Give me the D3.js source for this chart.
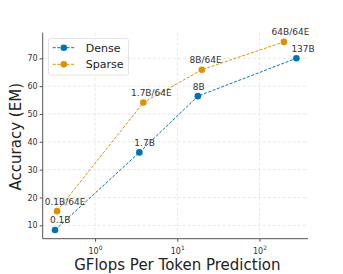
<!DOCTYPE html>
<html><head><meta charset="utf-8">
<script src="https://cdn.jsdelivr.net/npm/d3@7"></script>
<style>body{margin:0;background:#fff}svg{display:block}text{font-family:"DejaVu Sans",sans-serif}</style>
</head><body>
<script>
const denseX = [0.326, 3.46, 17.8, 281];
const denseY = [8.3, 36.2, 56.4, 70.0];
const denseLabels = ["0.1B", "1.7B", "8B", "137B"];
const sparseX = [0.345, 3.87, 19.9, 198];
const sparseY = [15.1, 54.1, 65.9, 75.9];
const sparseLabels = ["0.1B/64E", "1.7B/64E", "8B/64E", "64B/64E"];
const yTicks = [10, 20, 30, 40, 50, 60, 70];
const xTicks = [1, 10, 100];
const seriesNames = ["Dense", "Sparse"];
const colors = ["#0173b2", "#de8f05"];

const W = 343, H = 274;
const L = 42.7, R = 308, T = 32.7, B = 238.7;
const svg = d3.select("body").append("svg").attr("width", W).attr("height", H);
const x = d3.scaleLog().domain([0.231, 389]).range([L, R]);
const y = d3.scaleLinear().domain([5.2, 79.2]).range([B, T]);

// grid
svg.append("g").selectAll("line").data(yTicks).join("line")
  .attr("x1", L).attr("x2", R).attr("y1", d => y(d)).attr("y2", d => y(d))
  .attr("stroke", "#e2e2e2").attr("stroke-width", 0.8).attr("stroke-dasharray", "3,2");
svg.append("g").selectAll("line").data(xTicks).join("line")
  .attr("y1", T).attr("y2", B).attr("x1", d => x(d)).attr("x2", d => x(d))
  .attr("stroke", "#e2e2e2").attr("stroke-width", 0.8).attr("stroke-dasharray", "3,2");

// axes
const yAxis = svg.append("g").attr("transform", `translate(${L},0)`)
  .call(d3.axisLeft(y).tickValues(yTicks).tickSize(3).tickPadding(2));
const xAxis = svg.append("g").attr("transform", `translate(0,${B})`)
  .call(d3.axisBottom(x).tickValues(xTicks).tickSize(3).tickPadding(2).tickFormat(() => ""));
[yAxis, xAxis].forEach(a => {
  a.select(".domain").attr("stroke", "#555").attr("stroke-width", 1);
  a.selectAll(".tick line").attr("stroke", "#555");
  a.selectAll("text").attr("fill", "#333").style("font-size", "8px").style("font-family", "DejaVu Sans");
});
yAxis.select(".domain").attr("d", `M0,${B}V${T}`);
xAxis.select(".domain").attr("d", `M${L},0H${R}`);
xAxis.selectAll(".tick").each(function(d) {
  const t = d3.select(this).append("text").attr("y", 15).attr("text-anchor", "middle")
    .attr("fill", "#333").style("font-size", "8px");
  t.append("tspan").text("10");
  t.append("tspan").attr("dy", -4).style("font-size", "6px").text(Math.round(Math.log10(d)));
});

// series
const series = [
  {x: denseX, y: denseY, labels: denseLabels, color: colors[0], dx: -5},
  {x: sparseX, y: sparseY, labels: sparseLabels, color: colors[1], dx: -12.3}
];
const line = d3.line().x(d => x(d[0])).y(d => y(d[1]));
series.forEach(s => {
  const pts = s.x.map((v, i) => [v, s.y[i]]);
  svg.append("path").datum(pts).attr("d", line).attr("fill", "none")
    .attr("stroke", s.color).attr("stroke-width", 1).attr("stroke-dasharray", "3,1.6");
  svg.append("g").selectAll("circle").data(pts).join("circle")
    .attr("cx", d => x(d[0])).attr("cy", d => y(d[1])).attr("r", 3.3).attr("fill", s.color);
  svg.append("g").selectAll("text").data(pts).join("text")
    .attr("x", d => x(d[0]) + s.dx).attr("y", d => y(d[1]) - 6.6)
    .attr("fill", "#333").style("font-size", "9px").text((d, i) => s.labels[i]);
});

// legend
const lg = svg.append("g");
lg.append("rect").attr("x", 48.5).attr("y", 38.5).attr("width", 80).attr("height", 36.5)
  .attr("rx", 2).attr("fill", "#fff").attr("fill-opacity", 0.8).attr("stroke", "#ddd").attr("stroke-width", 0.8);
seriesNames.forEach((n, i) => {
  const cy = 47.7 + i * 16.6;
  lg.append("line").attr("x1", 52.7).attr("x2", 75).attr("y1", cy).attr("y2", cy)
    .attr("stroke", colors[i]).attr("stroke-width", 1).attr("stroke-dasharray", "3,1.6");
  lg.append("circle").attr("cx", 63.8).attr("cy", cy).attr("r", 3.3).attr("fill", colors[i]);
  lg.append("text").attr("x", 85.7).attr("y", cy + 4).attr("fill", "#222").style("font-size", "11px").text(n);
});

// axis titles
svg.append("text").attr("x", (L + R) / 2 + 2).attr("y", 269.5).attr("text-anchor", "middle")
  .attr("fill", "#222").style("font-size", "15px").text("GFlops Per Token Prediction");
svg.append("text").attr("transform", `translate(20.5,136.7) rotate(-90)`).attr("text-anchor", "middle")
  .attr("fill", "#222").style("font-size", "15px").text("Accuracy (EM)");
</script>
</body></html>
